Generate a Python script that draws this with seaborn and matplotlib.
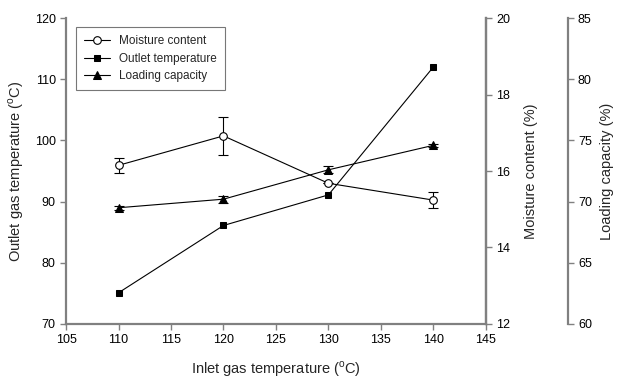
import matplotlib
matplotlib.use("Agg")
import matplotlib.pyplot as plt
import seaborn as sns
import pandas as pd

# data
inlet_temp = [110, 120, 130, 140]
moisture = [16.15, 16.92, 15.68, 15.24]
moisture_err = [0.19, 0.5, 0.0, 0.2]
outlet_temp = [75.1, 86.1, 91.1, 112.0]
loading = [69.5, 70.2, 72.6, 74.6]
loading_err = [0.15, 0.3, 0.3, 0.12]

sns.set_style("ticks")
plt.rcParams["font.family"] = ["Liberation Sans", "DejaVu Sans"]
plt.rcParams["mathtext.fontset"] = "custom"
plt.rcParams["mathtext.rm"] = "Liberation Sans"

df = pd.DataFrame({"inlet": inlet_temp, "moisture": moisture,
                   "outlet": outlet_temp, "loading": loading})

spine_col = "#808080"
fig = plt.figure(figsize=(6.18, 3.78), dpi=100)
ax = fig.add_axes([0.107, 0.143, 0.679, 0.809])
ax2 = ax.twinx()
ax3 = ax.twinx()
ax3.spines["right"].set_position(("axes", 1.195))

# outlet temperature (left axis)
sns.lineplot(data=df, x="inlet", y="outlet", ax=ax, color="black", lw=0.8,
             marker="s", markersize=5, markeredgecolor="black", label="Outlet temperature",
             legend=False)
# moisture (right axis)
ax2.errorbar(inlet_temp, moisture, yerr=moisture_err, fmt="none", ecolor="black",
             elinewidth=0.8, capsize=3.5, capthick=0.8)
sns.lineplot(data=df, x="inlet", y="moisture", ax=ax2, color="black", lw=0.8,
             marker="o", markersize=5.5, markerfacecolor="white", markeredgecolor="black",
             markeredgewidth=0.8, label="Moisture content", legend=False)
# loading capacity (third axis)
ax3.errorbar(inlet_temp, loading, yerr=loading_err, fmt="none", ecolor="black",
             elinewidth=0.8, capsize=3.5, capthick=0.8)
sns.lineplot(data=df, x="inlet", y="loading", ax=ax3, color="black", lw=0.8,
             marker="^", markersize=6, markeredgecolor="black", label="Loading capacity",
             legend=False)

ax.set_xlim(105, 145)
ax.set_xticks(range(105, 146, 5))
ax.set_ylim(70, 120)
ax.set_yticks(range(70, 121, 10))
ax2.set_ylim(12, 20)
ax2.set_yticks(range(12, 21, 2))
ax3.set_ylim(60, 85)
ax3.set_yticks(range(60, 86, 5))

ax.set_xlabel(r"Inlet gas temperature ($^\mathrm{o}$C)", fontsize=10.5, labelpad=9)
ax.set_ylabel(r"Outlet gas temperature ($^\mathrm{o}$C)", fontsize=10.5, labelpad=6)
ax2.set_ylabel("Moisture content (%)", fontsize=10.5, labelpad=10)
ax3.set_ylabel("Loading capacity (%)", fontsize=10.5, labelpad=6)

for a in (ax, ax2, ax3):
    a.spines["top"].set_visible(False)
    for s in a.spines.values():
        s.set_color(spine_col)
        s.set_linewidth(1.6)
    a.tick_params(colors=spine_col, labelcolor="black", labelsize=9, length=4, width=1)
ax2.spines["left"].set_visible(False)
ax3.spines["left"].set_visible(False)
ax3.spines["bottom"].set_visible(False)
ax2.spines["bottom"].set_visible(False)

handles = [ax2.get_lines()[-1], ax.get_lines()[-1], ax3.get_lines()[-1]]
labels = ["Moisture content", "Outlet temperature", "Loading capacity"]
leg = ax.legend(handles, labels, loc="upper left", bbox_to_anchor=(0.01, 0.99),
                fontsize=8.5, frameon=True, fancybox=False, handlelength=2.2,
                handletextpad=0.7, borderpad=0.7, labelspacing=0.45, edgecolor="#555555")
leg.get_frame().set_linewidth(0.8)

fig.savefig("out.png", dpi=100)
